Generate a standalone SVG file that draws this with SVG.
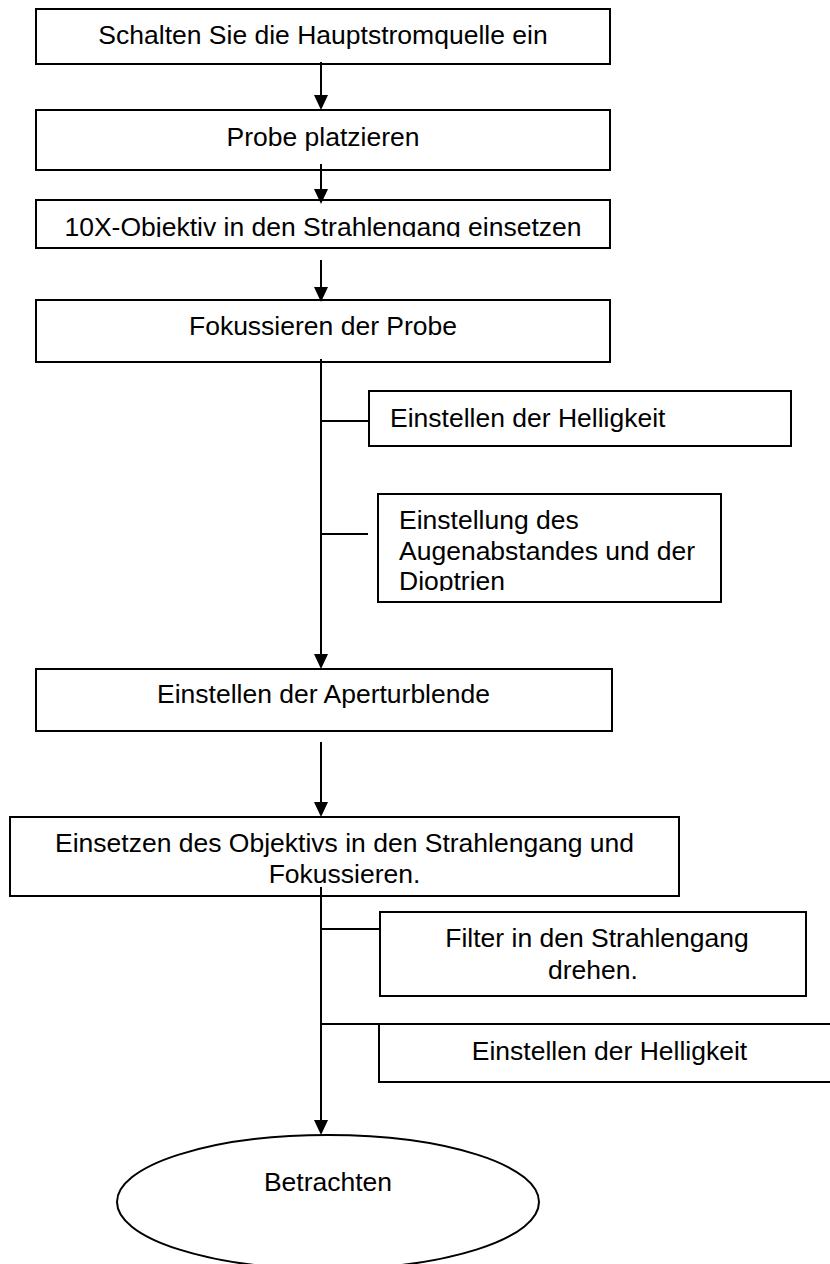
<svg xmlns="http://www.w3.org/2000/svg" width="830" height="1264" viewBox="0 0 830 1264">
<style>
.box{fill:#fff;stroke:#000;stroke-width:2}
.t{font-family:"Liberation Sans",Arial,sans-serif;font-size:26.5px;fill:#000}
.c{text-anchor:middle}
.ln{fill:none;stroke:#000;stroke-width:2}
</style>
<defs>
<marker id="ah" markerUnits="userSpaceOnUse" viewBox="0 0 15 14" markerWidth="15" markerHeight="14" refX="13" refY="7" orient="auto">
<path d="M0,0 L15,7 L0,14 Z" fill="#000"/>
</marker>
<clipPath id="clip3"><rect x="36" y="200" width="574" height="37"/></clipPath>
<clipPath id="clipE"><rect x="378" y="494" width="343" height="97"/></clipPath>
</defs>
<rect width="830" height="1264" fill="#fff"/>
<g id="n1"><rect class="box" x="36" y="9" width="574" height="55"/><text class="t c" x="323" y="44">Schalten Sie die Hauptstromquelle ein</text></g>
<g id="n2"><rect class="box" x="36" y="110" width="574" height="60"/><text class="t c" x="323" y="146">Probe platzieren</text></g>
<g id="n3"><rect class="box" x="36" y="200" width="574" height="48"/><text class="t c" x="323" y="236" clip-path="url(#clip3)">10X-Objektiv in den Strahlengang einsetzen</text></g>
<g id="n4"><rect class="box" x="36" y="300" width="574" height="62"/><text class="t c" x="323" y="335">Fokussieren der Probe</text></g>
<g id="n5"><rect class="box" x="369" y="391" width="422" height="55"/><text class="t" x="390" y="427">Einstellen der Helligkeit</text></g>
<g id="n6"><rect class="box" x="378" y="494" width="343" height="108"/><text class="t" clip-path="url(#clipE)"><tspan x="399" y="529">Einstellung des</tspan><tspan x="399" y="560">Augenabstandes und der</tspan><tspan x="399" y="590">Dioptrien</tspan></text></g>
<g id="n7"><rect class="box" x="36" y="669" width="576" height="62"/><text class="t c" x="323.5" y="703">Einstellen der Aperturblende</text></g>
<g id="n8"><rect class="box" x="10" y="817" width="669" height="79"/><text class="t c"><tspan x="344.5" y="852">Einsetzen des Objektivs in den Strahlengang und</tspan><tspan x="344.5" y="883">Fokussieren.</tspan></text></g>
<g id="n9"><rect class="box" x="380" y="912" width="426" height="84"/><text class="t c"><tspan x="597" y="947">Filter in den Strahlengang</tspan><tspan x="593" y="979">drehen.</tspan></text></g>
<g id="n10"><rect class="box" x="379" y="1024" width="470" height="58"/><text class="t c" x="609.5" y="1060">Einstellen der Helligkeit</text></g>
<g id="n11"><ellipse class="box" cx="328" cy="1202" rx="211" ry="67"/><text class="t c" x="328" y="1191">Betrachten</text></g>
<g id="connectors">
<line class="ln" x1="321" y1="62" x2="321" y2="108" marker-end="url(#ah)"/>
<line class="ln" x1="321" y1="164" x2="321" y2="202" marker-end="url(#ah)"/>
<line class="ln" x1="321" y1="260" x2="321" y2="300" marker-end="url(#ah)"/>
<line class="ln" x1="321" y1="359" x2="321" y2="667" marker-end="url(#ah)"/>
<line class="ln" x1="321" y1="421" x2="369" y2="421"/>
<line class="ln" x1="321" y1="534" x2="368" y2="534"/>
<line class="ln" x1="321" y1="742" x2="321" y2="815" marker-end="url(#ah)"/>
<line class="ln" x1="321" y1="887" x2="321" y2="1133" marker-end="url(#ah)"/>
<line class="ln" x1="321" y1="929" x2="380" y2="929"/>
<line class="ln" x1="321" y1="1024" x2="379" y2="1024"/>
</g>
</svg>
